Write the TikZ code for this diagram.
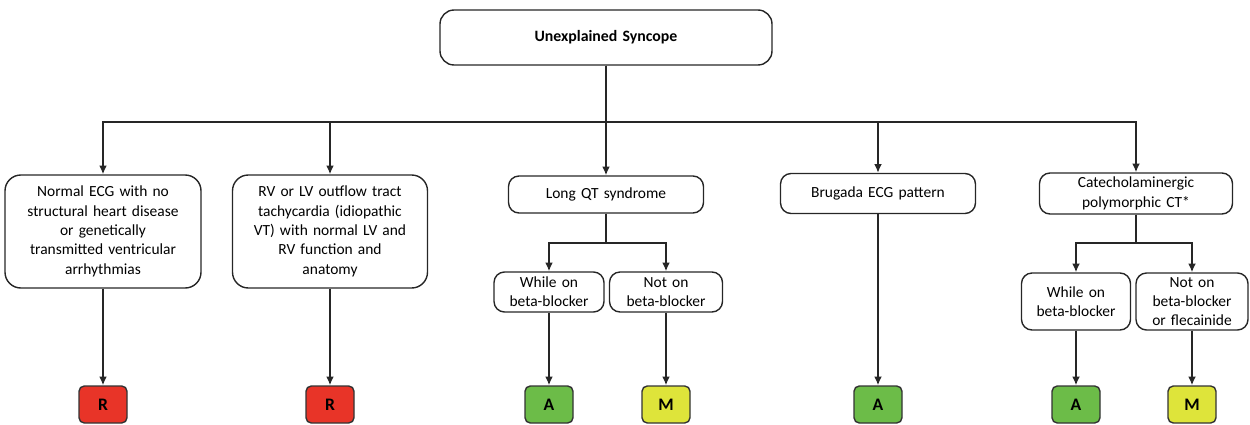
\documentclass[tikz,border=0pt]{standalone}
\usepackage{fontspec}
\setmainfont{Carlito}
\usetikzlibrary{arrows.meta}
\definecolor{rred}{RGB}{232,52,40}
\definecolor{agreen}{RGB}{108,188,72}
\definecolor{myellow}{RGB}{222,228,58}
\begin{document}
\begin{tikzpicture}[line width=0.8pt, font=\fontsize{8.8}{11}\selectfont,
   box_style/.style={draw=black!85, rounded corners=6pt, align=center, inner xsep=0pt, inner ysep=1pt},
   badge_style/.style={draw=black!80, rounded corners=3pt, minimum width=0.96cm, minimum height=0.74cm, inner sep=0pt, font=\fontsize{10}{12}\selectfont\bfseries},
   edge_style/.style={draw=black!85, line width=0.9pt, -{Latex[length=5pt,width=4.5pt]}}]
	\useasboundingbox (0,0) rectangle (25,8.48);

	\node [box_style, text width=6.64cm, minimum height=1.1cm, rounded corners=8pt, font=\fontsize{9}{11}\selectfont\bfseries] (s0) at (12.12,7.73) {Unexplained Syncope};
	\node [box_style, text width=3.92cm, minimum height=2.26cm, rounded corners=9pt] (n1) at (2.06,3.85) {Normal ECG with no\\structural heart disease\\or genetically\\transmitted ventricular\\arrhythmias};
	\node [box_style, text width=3.9cm, minimum height=2.26cm, rounded corners=9pt] (n2) at (6.6,3.85) {RV or LV outflow tract\\tachycardia (idiopathic\\VT) with normal LV and\\RV function and\\anatomy};
	\node [box_style, text width=3.9cm, minimum height=0.74cm] (n3) at (12.12,4.59) {Long QT syndrome};
	\node [box_style, text width=3.9cm, minimum height=0.8cm] (n4) at (17.56,4.61) {Brugada ECG pattern};
	\node [box_style, text width=3.86cm, minimum height=0.82cm] (n5) at (22.72,4.61) {Catecholaminergic\\polymorphic CT*};

	\node [box_style, text width=2.2cm, minimum height=0.8cm] (n3a) at (10.98,2.64) {While on\\beta-blocker};
	\node [box_style, text width=2.26cm, minimum height=0.8cm] (n3b) at (13.32,2.64) {Not on\\beta-blocker};
	\node [box_style, text width=2.18cm, minimum height=1.14cm] (n5a) at (21.52,2.45) {While on\\beta-blocker};
	\node [box_style, text width=2.24cm, minimum height=1.14cm] (n5b) at (23.84,2.45) {Not on\\beta-blocker\\or flecainide};

	\node [badge_style, fill=rred] (r1) at (2.06,0.39) {R};
	\node [badge_style, fill=rred] (r2) at (6.6,0.39) {R};
	\node [badge_style, fill=agreen] (r3) at (10.98,0.39) {A};
	\node [badge_style, fill=myellow] (r4) at (13.32,0.39) {M};
	\node [badge_style, fill=agreen] (r5) at (17.56,0.39) {A};
	\node [badge_style, fill=agreen] (r6) at (21.52,0.39) {A};
	\node [badge_style, fill=myellow] (r7) at (23.84,0.39) {M};

	\coordinate (bus) at (12.12,6.04);
	\coordinate (split3) at (12.12,3.62);
	\coordinate (split5) at (22.72,3.62);

	% first level
	\foreach \to in {n1,n2,n3,n4,n5}
	  \draw [edge_style] (s0.south) -- (bus) -| (\to.north);

	% therapy branches
	\foreach \from/\split/\to in {n3/split3/n3a, n3/split3/n3b, n5/split5/n5a, n5/split5/n5b}
	  \draw [edge_style] (\from.south) -- (\split) -| (\to.north);

	% class of recommendation
	\foreach \from/\to in {n1/r1, n2/r2, n3a/r3, n3b/r4, n4/r5, n5a/r6, n5b/r7}
	  \draw [edge_style] (\from.south) -- (\to.north);

\end{tikzpicture}
\end{document}
